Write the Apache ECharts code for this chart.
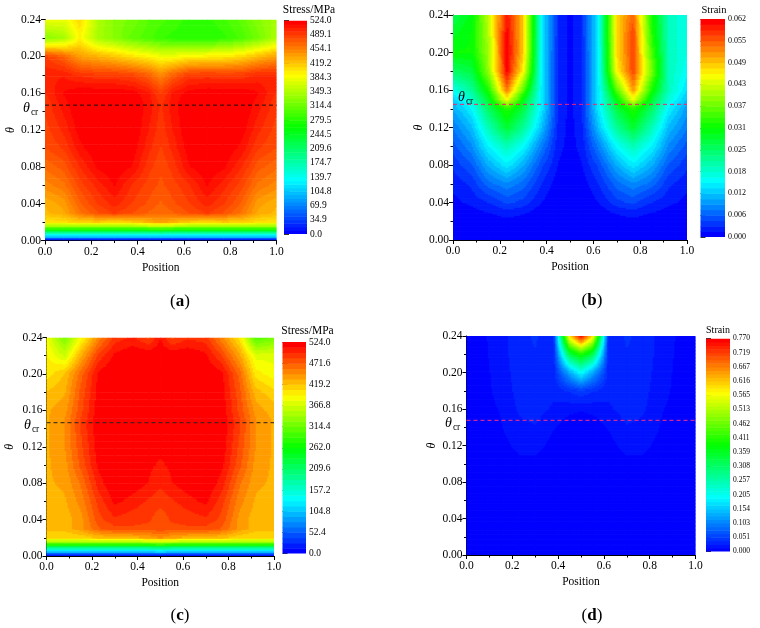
<!DOCTYPE html>
<html>
<head>
<meta charset="utf-8">
<style>html,body{margin:0;padding:0;background:#fff}#c{width:760px;height:628px}</style>
<script src="https://cdn.jsdelivr.net/npm/echarts@6/dist/echarts.min.js"></script>
</head>
<body>
<div id="c"></div>
<script>
// Mesh nodes
const positions = [0,.08,.15,.23,.30,.38,.45,.5,.55,.62,.70,.77,.85,.92,1];
const thetas = [0,.004,.008,.012,.016,.02,.03,.04,.06,.08,.10,.12,.14,.15,.16,.18,.20,.22,.24];

// (a) Stress / MPa, one row per theta
const stressA = [
[0,0,0,0,0,0,0,0,0,0,0,0,0,0,0],
[95,95,95,95,95,95,95,100,95,95,95,95,95,95,95],
[170,170,170,170,170,170,170,175,170,170,170,170,170,170,170],
[270,270,270,270,270,270,275,280,275,270,270,270,270,270,270],
[345,345,345,345,345,345,355,360,355,345,345,345,345,345,345],
[405,405,415,415,410,415,430,440,430,415,410,415,415,405,405],
[425,435,460,480,490,480,470,465,470,480,490,480,460,435,425],
[430,440,470,490,502,488,478,470,478,488,502,490,470,440,430],
[450,460,484,502,516,496,485,478,485,496,516,502,484,460,450],
[465,475,498,518,524,514,492,482,492,514,524,518,498,475,465],
[480,490,512,524,524,520,500,488,500,520,524,524,512,490,480],
[485,500,520,524,524,524,506,492,506,524,524,524,520,500,485],
[490,508,524,524,524,524,510,495,510,524,524,524,524,508,490],
[492,512,524,524,524,524,510,495,510,524,524,524,524,512,492],
[497,516,524,524,524,520,508,488,508,520,524,524,524,516,497],
[505,505,495,490,490,485,470,450,470,490,492,490,490,500,500],
[490,470,440,430,420,405,395,385,385,395,398,400,410,425,440],
[330,345,395,345,330,310,300,290,285,280,280,285,300,320,350],
[385,380,410,350,330,320,305,300,295,285,285,295,310,330,345]
];

// (b) Strain x 10^-3
const strainB = [
[0,0,0,0,0,0,0,0,0,0,0,0,0,0,0],
[0,0,0,0,0,0,0,0,0,0,0,0,0,0,0],
[0,0,0,0,0,0,0,0,0,0,0,0,0,0,0],
[0,0,0,0,0,0,0,0,0,0,0,0,0,0,0],
[0,0,0,0,0,0,0,0,0,0,0,0,0,0,0],
[0,0,.5,1,.5,0,0,0,0,0,.5,1,.5,0,0],
[0,1,1.6,2.5,2,.5,0,0,0,.5,2,2.5,1.6,1,0],
[1,2,3,5,4,1.5,0,0,0,1.5,4,5,3,2,1],
[2,3.5,7,9,7,3,.5,0,.5,3,7,9,7,3.5,2],
[3.5,6,11,15,11,5,1.5,.5,1.5,5,11,15,11,6,3.5],
[5.5,9,15.4,20,16,8,2,1,2,8,16,20,15.4,9,5.5],
[8,12,20,28,22,12,2.5,1,2.5,12,22,28,20,12,8],
[11,15.4,25,33,27,14.5,3,1,3,14.5,27,33,25,15.4,10],
[13,19,28,46,30,14.5,3,1,3,14.5,30,45,28,18,12],
[17,22,32,54,36,14.5,3,1,3,14.5,36,52,32,20,14],
[25,27,39,61,46,14.5,3,1,3,14.5,46,57,38,20,16],
[31,31,40,61.7,49,14.5,3,1,3,14.5,48,57,35,20,17],
[29,31,41,61,49,15,3,1,3,15,48,57,33,20,17],
[26,30,42,60,49,15,3,1,3,15,48,55,32,20,17]
];

// (c) Stress / MPa
const stressC = [
[0,0,0,0,0,0,0,0,0,0,0,0,0,0,0],
[90,90,90,90,90,90,90,95,90,90,90,90,90,90,90],
[165,165,165,165,165,165,165,170,165,165,165,165,165,165,165],
[265,265,265,265,265,265,270,275,270,265,265,265,265,265,265],
[345,345,345,345,345,350,358,365,358,350,345,345,345,345,345],
[405,405,410,420,425,425,435,445,435,425,425,420,410,405,405],
[425,425,440,470,480,482,480,480,480,482,480,470,440,425,425],
[425,425,440,480,495,490,487,475,487,490,495,480,440,425,425],
[425,430,450,490,515,505,495,490,495,505,515,490,450,430,425],
[430,435,460,505,524,520,510,500,510,520,524,505,460,435,430],
[430,440,475,515,524,524,514,508,514,524,524,515,475,440,430],
[430,445,480,520,524,524,524,516,524,524,524,520,480,445,430],
[430,445,485,522,524,524,524,524,524,524,524,522,485,445,430],
[430,445,485,522,524,524,524,524,524,524,524,522,485,445,430],
[430,440,480,520,524,524,524,524,524,524,524,520,480,440,425],
[420,430,475,518,524,524,524,524,524,524,524,518,475,425,410],
[400,420,465,515,524,524,524,524,524,524,524,515,465,400,385],
[395,365,430,490,515,524,524,524,524,524,515,485,435,375,375],
[385,320,385,450,490,500,480,510,480,495,490,450,400,300,320]
];

// (d) Strain x 10^-3
const strainD = [
[0,0,0,0,0,0,0,0,0,0,0,0,0,0,0],
[0,0,0,0,0,0,0,0,0,0,0,0,0,0,0],
[0,0,0,0,0,0,0,0,0,0,0,0,0,0,0],
[0,0,0,0,0,0,0,0,0,0,0,0,0,0,0],
[0,0,0,0,0,0,0,0,0,0,0,0,0,0,0],
[0,0,0,0,0,0,0,0,0,0,0,0,0,0,0],
[0,0,0,0,0,0,0,0,0,0,0,0,0,0,0],
[0,0,0,0,0,0,0,0,0,0,0,0,0,0,0],
[0,0,2,2.5,2,1,0,0,0,1,2,2.5,2,0,0],
[0,2,4,6,5,2,1,0,1,2,5,6,4,2,0],
[0,3.5,6,10,9,4,1,1,1,4,9,10,6,3.5,0],
[2,5,9,16,18,8,3,2,3,8,18,16,9,5,2],
[3,6.5,12,22,25,14,6,4,6,14,25,22,12,6.5,3],
[3.5,7,13,25,28,19,10,8,10,19,28,25,13,7,3.5],
[4,8,14,28,30,24,18,14,18,24,30,28,14,8,4],
[5,9,18,30,35,28,40,50,40,28,35,30,18,9,5],
[5.5,10,19,32,37,30,130,200,130,30,37,32,19,10,5.5],
[6,11,20,34,38,30,330,400,330,30,38,34,20,11,6],
[6,12,20,35,40,30,600,770,600,30,40,35,20,12,6]
];

const ticksA = ['0.0','34.9','69.9','104.8','139.7','174.7','209.6','244.5','279.5','314.4','349.3','384.3','419.2','454.1','489.1','524.0'];
const ticksB = ['0.000','0.006','0.012','0.018','0.025','0.031','0.037','0.043','0.049','0.055','0.062'];
const ticksC = ['0.0','52.4','104.8','157.2','209.6','262.0','314.4','366.8','419.2','471.6','524.0'];
const ticksD = ['0.000','0.051','0.103','0.154','0.205','0.257','0.308','0.359','0.411','0.462','0.513','0.565','0.616','0.667','0.719','0.770'];

const maxA = 524, maxB = 61.7, maxC = 524, maxD = 770;
const thetaCrA = .147, thetaCrB = .1447, thetaCrC = .1464, thetaCrD = .1476;

const FONT = '"Liberation Serif","Times New Roman",serif';
const panels = [
 {grid:[45,19.5,231.5,221], bar:[284,20.5,23,213.5], z:stressA, max:maxA, levels:60, ticks:ticksA, cr:thetaCrA, dash:'#111', barFont:9.5,
  title:'Stress/MPa', titleX:309, titleY:10, titleFont:11.5, cap:'a', capX:180, capY:302, crX:23, crY:108, nameGap:28},
 {grid:[453,15,234,225], bar:[700.5,19,24.5,218], z:strainB, max:maxB, levels:40, ticks:ticksB, cr:thetaCrB, dash:'#ff1f6b', barFont:8,
  title:'Strain', titleX:714, titleY:10, titleFont:10.5, cap:'b', capX:592, capY:301, crX:458, crY:97, nameGap:28},
 {grid:[46.5,337.5,227.5,218.5], bar:[282.5,342,23.5,211.5], z:stressC, max:maxC, levels:40, ticks:ticksC, cr:thetaCrC, dash:'#222', barFont:9.5,
  title:'Stress/MPa', titleX:307.5, titleY:331, titleFont:11.5, cap:'c', capX:180, capY:616, crX:24, crY:425, nameGap:31},
 {grid:[466.5,336,229,219], bar:[706,338.5,24,213], z:strainD, max:maxD, levels:60, ticks:ticksD, cr:thetaCrD, dash:'#ff2f80', barFont:7.5,
  title:'Strain', titleX:718, titleY:330, titleFont:10, cap:'d', capX:592, capY:616, crX:445, crY:423, nameGap:29}
];

function rgbOf(f){
  const stops = [[0,0,255],[0,255,255],[0,255,0],[255,255,0],[255,0,0]];
  const t = Math.max(0,Math.min(1,f))*4, i = Math.min(3,Math.floor(t)), u = t-i;
  const a = stops[i], b = stops[i+1];
  return 'rgb('+Math.round(a[0]+(b[0]-a[0])*u)+','+Math.round(a[1]+(b[1]-a[1])*u)+','+Math.round(a[2]+(b[2]-a[2])*u)+')';
}
function bandColor(v,max,levels){
  const k = Math.min(levels-1, Math.floor(v/max*levels));
  return rgbOf(k/(levels-1));
}

// Contour painter: each mesh cell is shaded between its four typed corner values
function contourItem(p){
  return function(params, api){
    const n = positions.length, r = Math.floor(params.dataIndex/n), c = params.dataIndex%n;
    if (r>=thetas.length-1 || c>=n-1) return null;
    const a = api.coord([positions[c],thetas[r]]), b = api.coord([positions[c+1],thetas[r+1]]);
    const x0=a[0], x1=b[0], y0=b[1], y1=a[1], w=x1-x0, h=y1-y0;
    const nx=Math.max(2,Math.ceil(w/1.5)), ny=Math.max(2,Math.ceil(h/1.5));
    const v00=p.z[r][c], v10=p.z[r][c+1], v01=p.z[r+1][c], v11=p.z[r+1][c+1];
    const children=[], right=params.coordSys.x+params.coordSys.width, bottom=params.coordSys.y+params.coordSys.height;
    for(let j=0;j<ny;j++){
      const ty=1-(j+.5)/ny, py=y0+j*h/ny;
      let start=0, col=null;
      for(let i=0;i<=nx;i++){
        let cur=null;
        if(i<nx){
          const tx=(i+.5)/nx;
          const v=v00*(1-tx)*(1-ty)+v10*tx*(1-ty)+v01*(1-tx)*ty+v11*tx*ty;
          cur=bandColor(v,p.max,p.levels);
        }
        if(cur!==col){
          if(col!==null){
            const rx=x0+start*w/nx;
            children.push({type:'rect',silent:true,shape:{x:rx,y:py,
              width:Math.min(right-rx,(i-start)*w/nx+.7),height:Math.min(bottom-py,h/ny+.7)},style:{fill:col}});
          }
          start=i; col=cur;
        }
      }
    }
    return {type:'group',children};
  };
}
function barItem(p){
  return function(params, api){
    const k=api.value(1), s=p.max/p.levels;
    const a=api.coord([0,k*s]), b=api.coord([1,(k+1)*s]);
    return {type:'rect',silent:true,shape:{x:a[0],y:b[1],width:b[0]-a[0],height:a[1]-b[1]+.5},style:{fill:rgbOf(k/(p.levels-1))}};
  };
}

const grid=[],xAxis=[],yAxis=[],series=[],graphic=[];
const axisBase={axisLine:{show:true,onZero:false,lineStyle:{color:'#000',width:1}},
  axisTick:{show:true,length:4,lineStyle:{color:'#000'}},
  minorTick:{show:true,splitNumber:2,length:2.5,lineStyle:{color:'#000'}},
  splitLine:{show:false},minorSplitLine:{show:false}};
panels.forEach((p,i)=>{
  const gi=grid.length;
  grid.push({left:p.grid[0],top:p.grid[1],width:p.grid[2],height:p.grid[3]});
  xAxis.push(Object.assign({gridIndex:gi,type:'value',min:0,max:1,interval:.2,name:'Position',nameLocation:'middle',nameGap:21,
    nameTextStyle:{fontFamily:FONT,fontSize:11.5,color:'#000'},
    axisLabel:{fontFamily:FONT,fontSize:11.5,color:'#000',margin:5,formatter:v=>v.toFixed(1),hideOverlap:false,showMinLabel:true,showMaxLabel:true}},axisBase));
  yAxis.push(Object.assign({gridIndex:gi,type:'value',min:0,max:.24,interval:.04,name:'θ',nameLocation:'middle',nameGap:p.nameGap,
    nameTextStyle:{fontFamily:FONT,fontSize:12,fontStyle:'italic',color:'#000'},
    axisLabel:{fontFamily:FONT,fontSize:11.5,color:'#000',margin:4,formatter:v=>v.toFixed(2),hideOverlap:false,showMinLabel:true,showMaxLabel:true}},axisBase));
  const data=[];
  thetas.forEach((t,r)=>positions.forEach((x,c)=>data.push([x,t,p.z[r][c]])));
  series.push({type:'custom',xAxisIndex:gi,yAxisIndex:gi,coordinateSystem:'cartesian2d',data,encode:{x:0,y:1},
    renderItem:contourItem(p),animation:false,silent:true,clip:true,z:1});
  series.push({type:'line',xAxisIndex:gi,yAxisIndex:gi,data:[[0,p.cr],[1,p.cr]],symbol:'none',silent:true,animation:false,z:5,
    lineStyle:{color:p.dash,width:1,type:[4,3]}});

  const bi=grid.length;
  grid.push({left:p.bar[0],top:p.bar[1],width:p.bar[2],height:p.bar[3]});
  xAxis.push({gridIndex:bi,type:'value',min:0,max:1,show:false});
  const step=p.max/(p.ticks.length-1);
  yAxis.push({gridIndex:bi,type:'value',min:0,max:p.max,interval:step,position:'right',
    axisLine:{show:false},axisTick:{show:true,length:5,lineStyle:{color:'#333'}},splitLine:{show:false},
    axisLabel:{fontFamily:FONT,fontSize:p.barFont,color:'#000',margin:3,hideOverlap:false,showMinLabel:true,showMaxLabel:true,
      formatter:v=>p.ticks[Math.round(v/step)]}});
  const bands=[];
  for(let k=0;k<p.levels;k++) bands.push([0,k]);
  series.push({type:'custom',xAxisIndex:bi,yAxisIndex:bi,coordinateSystem:'cartesian2d',data:bands,encode:{x:0},
    renderItem:barItem(p),animation:false,silent:true,clip:true});

  graphic.push({type:'text',x:p.titleX,y:p.titleY,silent:true,z:10,
    style:{text:p.title,fontFamily:FONT,fontSize:p.titleFont,fill:'#000',textAlign:'center',textVerticalAlign:'middle'}});
  graphic.push({type:'text',x:p.crX,y:p.crY,silent:true,z:10,
    style:{text:'{t|θ}{s|cr}',textVerticalAlign:'middle',rich:{
      t:{fontFamily:FONT,fontSize:14,fontStyle:'italic',fill:'#000'},
      s:{fontFamily:FONT,fontSize:9.5,fill:'#000',padding:[8,0,0,1]}}}});
  graphic.push({type:'text',x:p.capX,y:p.capY,silent:true,z:10,
    style:{text:'{r|(}{b|'+p.cap+'}{r|)}',textAlign:'center',textVerticalAlign:'middle',rich:{
      r:{fontFamily:FONT,fontSize:17,fill:'#000'},
      b:{fontFamily:FONT,fontSize:17,fontWeight:'bold',fill:'#000'}}}});
});

const chart=echarts.init(document.getElementById('c'),null,{renderer:'canvas'});
chart.setOption({backgroundColor:'#fff',animation:false,grid,xAxis,yAxis,series,graphic});
</script>
</body>
</html>
